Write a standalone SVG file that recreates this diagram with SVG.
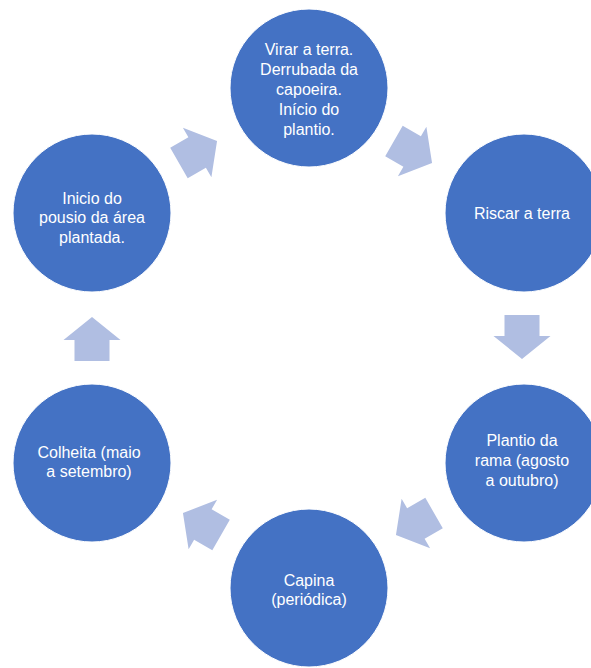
<svg xmlns="http://www.w3.org/2000/svg" xmlns:xlink="http://www.w3.org/1999/xlink" width="591" height="668" viewBox="0 0 591 668">
<style>
.node circle{fill:#4472C4;stroke:#ffffff;stroke-width:1}
.node text{fill:#ffffff;font-family:"Liberation Sans",Arial,sans-serif;font-size:16px;text-anchor:middle}
.arrow{fill:#B0BEE2}
</style>
<defs>
<path id="arr" d="M -22,-17.5 L -1,-17.5 L -1,-28.5 L 22,0 L -1,28.5 L -1,17.5 L -22,17.5 Z"/>
</defs>
<rect width="591" height="668" fill="#ffffff"/>
<g id="connectors">
<use xlink:href="#arr" class="arrow" transform="translate(413,152) rotate(30)"/>
<use xlink:href="#arr" class="arrow" transform="translate(522,337) rotate(90)"/>
<use xlink:href="#arr" class="arrow" transform="translate(415,524) rotate(150)"/>
<use xlink:href="#arr" class="arrow" transform="translate(202,524) rotate(210)"/>
<use xlink:href="#arr" class="arrow" transform="translate(92,339) rotate(270)"/>
<use xlink:href="#arr" class="arrow" transform="translate(198,152) rotate(330)"/>
</g>
<g id="node-virar" class="node">
<circle cx="309" cy="88" r="79"/>
<text x="309" y="55">Virar a terra.</text>
<text x="309" y="75">Derrubada da</text>
<text x="309" y="95">capoeira.</text>
<text x="309" y="115">Início do</text>
<text x="309" y="135">plantio.</text>
</g>
<g id="node-riscar" class="node">
<circle cx="524" cy="213" r="79"/>
<text x="522" y="219">Riscar a terra</text>
</g>
<g id="node-plantio" class="node">
<circle cx="524" cy="463" r="79"/>
<text x="522" y="446">Plantio da</text>
<text x="522" y="466">rama (agosto</text>
<text x="522" y="486">a outubro)</text>
</g>
<g id="node-capina" class="node">
<circle cx="309" cy="588" r="79"/>
<text x="309" y="586">Capina</text>
<text x="309" y="605">(periódica)</text>
</g>
<g id="node-colheita" class="node">
<circle cx="92" cy="463" r="79"/>
<text x="89" y="458">Colheita (maio</text>
<text x="89" y="477">a setembro)</text>
</g>
<g id="node-inicio" class="node">
<circle cx="92" cy="213" r="79"/>
<text x="92" y="204">Inicio do</text>
<text x="92" y="223">pousio da área</text>
<text x="92" y="243">plantada.</text>
</g>
</svg>
